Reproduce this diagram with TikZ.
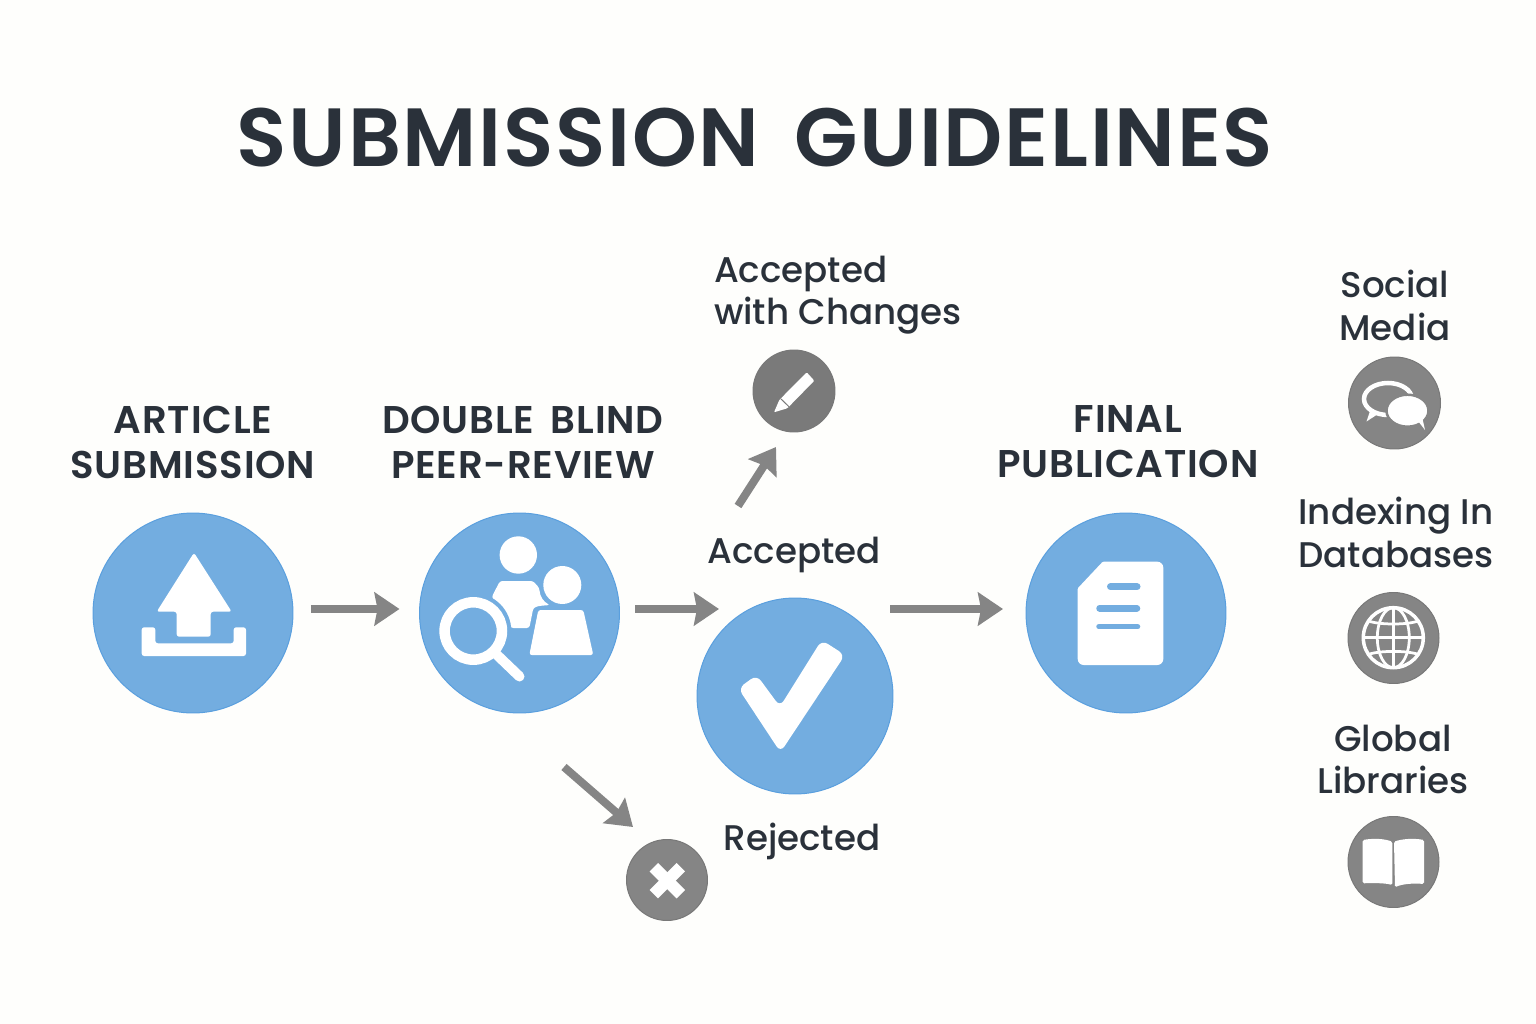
\documentclass[tikz,border=0pt]{standalone}
\usepackage{fontspec}
\setmainfont{Poppins}
\newfontfamily\labelfont{Poppins Medium}
\newfontfamily\headfont{Poppins SemiBold}[LetterSpace=2.1,WordSpace=1.65]
\usetikzlibrary{arrows.meta}
\definecolor{pagebg}{HTML}{FEFEFC}
\definecolor{inkdark}{HTML}{2A313A}
\definecolor{stepblue}{HTML}{73ADE0}
\definecolor{stepedge}{HTML}{5A9FDE}
\definecolor{outgray}{HTML}{858585}
\tikzset{
  x=0.02cm, y=-0.02cm,
  bigstep/.style={circle, fill=stepblue, draw=stepedge, line width=0.02cm, minimum size=4cm, inner sep=0pt},
  smallstep/.style={circle, fill=outgray, draw=outgray!90!black, line width=0.02cm, inner sep=0pt},
  headlabel/.style={align=center, text=inkdark, font=\headfont\fontsize{22}{25.6}\selectfont},
  sublabel/.style={align=center, text=inkdark, font=\labelfont\fontsize{20.3}{24.2}\selectfont},
  flow/.style={draw=outgray, line width=0.16cm, -{Stealth[length=0.5cm,width=0.66cm,inset=0.06cm]}},
  iconfill/.style={fill=white, draw=none, rounded corners=0.05cm},
}
\begin{document}
\begin{tikzpicture}
      \useasboundingbox[fill=pagebg] (0, 0) rectangle (1536, 1024);

      \node[text=inkdark, font=\headfont\fontsize{47}{52}\selectfont] (title) at (755, 138) {SUBMISSION GUIDELINES};

      \node[bigstep] (submit) at (193, 613) {};
      \node[headlabel] (submitlabel) at (193, 442) {ARTICLE\\SUBMISSION};

      \node[bigstep] (review) at (519.5, 613) {};
      \node[headlabel] (reviewlabel) at (523, 442) {DOUBLE BLIND\\PEER-REVIEW};

      \node[bigstep, minimum size=3.92cm] (accepted) at (795, 696) {};
      \node[sublabel] (acceptedlabel) at (794, 555) {Accepted};

      \node[bigstep] (publish) at (1126, 613) {};
      \node[headlabel] (publishlabel) at (1128, 442) {FINAL\\PUBLICATION};

      \node[smallstep, minimum size=1.64cm, fill=outgray!92!black] (changes) at (794, 391) {};
      \node[sublabel, align=left] (changeslabel) at (838, 295) {Accepted\\with Changes};

      \node[smallstep, minimum size=1.62cm] (rejected) at (667, 880) {};
      \node[sublabel] (rejectedlabel) at (802, 841) {Rejected};

      \node[smallstep, minimum size=1.84cm] (social) at (1394.5, 403) {};
      \node[sublabel] (sociallabel) at (1395, 305.5) {Social\\Media};

      \node[smallstep, minimum size=1.82cm] (indexing) at (1393.5, 638) {};
      \node[sublabel] (indexinglabel) at (1396, 532.5) {Indexing In\\Databases};

      \node[smallstep, minimum size=1.82cm] (libraries) at (1393.5, 862) {};
      \node[sublabel] (librarieslabel) at (1393, 759.5) {Global\\Libraries};

      % arrows
      \draw[flow] ([shift={(17.5, -4)}]submit.east) -- ([shift={(-19.5, -4)}]review.west);
      \draw[flow] ([shift={(15.5, -4)}]review.east) -- ([shift={(-76, -87)}]accepted.center);
      \draw[flow] ([shift={(95, -87)}]accepted.center) -- ([shift={(-22.5, -4)}]publish.west);
      \draw[flow] ([shift={(-56, -49)}]acceptedlabel.center) -- ([shift={(-18, 56)}]changes.center);
      \draw[flow] ([shift={(44.5, 154)}]review.center) -- ([shift={(-34, -53)}]rejected.center);

      % upload
      \fill[iconfill] (194, 552.7) -- (231.7, 611.7) -- (210.7, 611.7) -- (210.7, 636.7)
        -- (176.7, 636.7) -- (176.7, 611.7) -- (156.7, 611.7) -- cycle;
      \fill[iconfill] (141.7, 627.3) -- (155.3, 627.3) -- (155.3, 643.3) -- (233.7, 643.3)
        -- (233.7, 627.3) -- (246, 627.3) -- (246, 656) -- (141.7, 656) -- cycle;

      % reviewers
      \fill[white] (518.3, 555) circle (18.7);
      \fill[white] (562.3, 585) circle (19);
      \fill[iconfill] (491.7, 597) -- (500, 581) -- (533, 581) -- (539.3, 588) .. controls (540, 597) and (544, 602) .. (550, 605)
        -- (538.3, 606) -- (533.3, 608) -- (529.3, 628) -- (511, 628) -- cycle;
      \fill[iconfill] (538.3, 610) -- (583.3, 610) -- (593.3, 655) -- (529.3, 655) -- cycle;
      \fill[stepblue] (473.3, 631) circle (38);
      \draw[white, line width=0.2cm, line cap=round] (495, 653) -- (519.5, 676.5);
      \draw[white, line width=0.21cm] (473.3, 631) circle (28.7);

      % check
      \fill[iconfill, rounded corners=0.14cm] (738.3, 688.3) -- (756.7, 675) -- (780, 706.7) -- (821.7, 640)
        -- (845, 655) -- (780.5, 752.3) -- cycle;

      % document
      \fill[white] (1102.7, 561.7) [rounded corners=0.12cm] -- (1163.3, 561.7) -- (1163.3, 665)
        -- (1077.7, 665) [rounded corners=0.02cm] -- (1077.7, 588.3) -- cycle;
      \draw[stepblue, line width=0.14cm, line cap=round] (1110.5, 586.7) -- (1137, 586.7);
      \draw[stepblue, line width=0.13cm, line cap=round] (1099.5, 608.3) -- (1137, 608.3);
      \draw[stepblue, line width=0.11cm, line cap=round] (1099, 626.7) -- (1137.5, 626.7);

      % pencil
      \fill[white, rounded corners=0.02cm] (806.7, 372.3) -- (814.3, 380.7) -- (787.3, 408.3) -- (774, 412.3) -- (779.3, 400) -- cycle;
      \draw[outgray!92!black, line width=0.02cm] (780.7, 398.7) -- (789, 406.7);

      % cross
      \draw[white, line width=0.24cm] (653.8, 867.2) -- (680.8, 894.2);
      \draw[white, line width=0.24cm] (680.8, 867.2) -- (653.8, 894.2);

      % chat
      \draw[white, line width=0.09cm] (1388, 399) ellipse (24 and 16);
      \fill[white] (1370, 411) -- (1366.5, 421.5) -- (1378, 414) -- cycle;
      \fill[white, draw=outgray, line width=0.05cm] (1407.5, 410.7) ellipse (21 and 16);
      \fill[white] (1418, 421) -- (1425, 430) -- (1421, 412) -- cycle;

      % globe
      \draw[white, line width=0.07cm] (1393.3, 637.7) circle (30);
      \draw[white, line width=0.055cm] (1393.3, 637.7) ellipse (16 and 30);
      \draw[white, line width=0.055cm] (1393.3, 607.7) -- (1393.3, 667.7);
      \draw[white, line width=0.055cm] (1363.3, 637.7) -- (1423.3, 637.7);
      \draw[white, line width=0.055cm] (1368.3, 621) .. controls (1380, 625) and (1407, 625) .. (1418.3, 621);
      \draw[white, line width=0.055cm] (1368.3, 654.4) .. controls (1380, 650.4) and (1407, 650.4) .. (1418.3, 654.4);

      % book
      \fill[iconfill, rounded corners=0.03cm] (1362.7, 840) .. controls (1375, 838) and (1385, 839) .. (1392.3, 841.7)
        -- (1392.3, 885) .. controls (1385, 883) and (1375, 883) .. (1362.7, 883.3) -- cycle;
      \fill[iconfill, rounded corners=0.03cm] (1394, 841.7) .. controls (1402, 839) and (1413, 838) .. (1424, 840)
        -- (1424, 884) .. controls (1413, 883) and (1402, 884) .. (1395, 887.3) -- cycle;
  \end{tikzpicture}
\end{document}
